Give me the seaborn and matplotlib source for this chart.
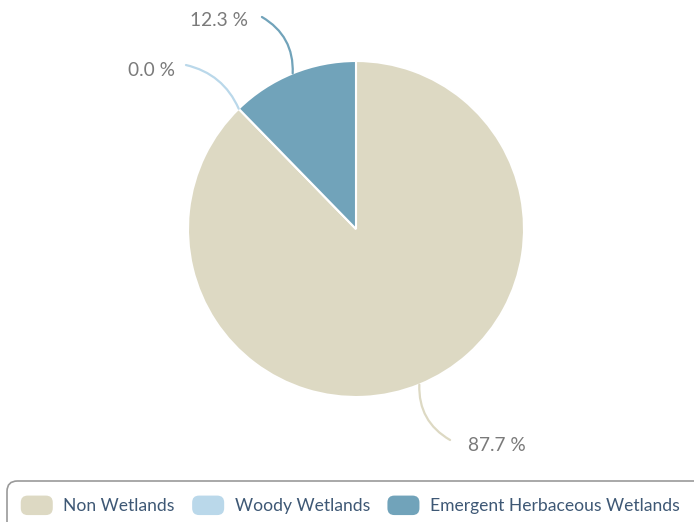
import numpy as np
import matplotlib
matplotlib.use('Agg')
import matplotlib.pyplot as plt
import seaborn as sns
from matplotlib.patches import Patch, FancyBboxPatch
from matplotlib.legend_handler import HandlerPatch

### Dados
categorias = ['Non Wetlands', 'Woody Wetlands', 'Emergent Herbaceous Wetlands']
percentuais = [87.7, 0.0, 12.3]
cores = ['#DDD9C3', '#BAD8EA', '#71A3BA']

sns.set_style('white')
plt.rcParams['font.family'] = ['Lato', 'DejaVu Sans']

fig = plt.figure(figsize=(6.94, 5.22), dpi=100)
W, H = 694, 522
# eixo da pizza: centro (356, 229) px, raio 168 px
ax = fig.add_axes([(356 - 168) / W, (H - 229 - 168) / H, 336 / W, 336 / H])

wedges, _ = ax.pie(percentuais, colors=cores, startangle=90, counterclock=False,
                   radius=1, wedgeprops=dict(edgecolor='white', linewidth=1.5))
ax.set_xlim(-1, 1)
ax.set_ylim(-1, 1)
ax.set_aspect('equal')
ax.axis('off')

# Rótulos com linhas curvas
pos_linha = [(0.56, -1.256), (-1.012, 0.976), (-0.56, 1.262)]
pos_texto = [(0.667, -1.286, 'left'), (-1.077, 0.946, 'right'), (-0.643, 1.244, 'right')]
raios = [-0.3, -0.25, -0.3]
for w, val, cor, pl, pt, rad in zip(wedges, percentuais, cores, pos_linha, pos_texto, raios):
    ang = np.deg2rad((w.theta1 + w.theta2) / 2)
    ponto = (np.cos(ang), np.sin(ang))
    ax.annotate('', xy=ponto, xytext=pl, annotation_clip=False,
                arrowprops=dict(arrowstyle='-', color=cor, lw=1.6,
                                shrinkA=0, shrinkB=0,
                                connectionstyle=f'arc3,rad={rad}'))
    ax.text(pt[0], pt[1], f'{val:.1f} %', ha=pt[2], va='center',
            fontsize=13.8, color='#7a7a7a', clip_on=False)

# Caixa da legenda (cortada à direita)
caixa = FancyBboxPatch((7 / W, -30 / H), 740 / W, 71 / H,
                       boxstyle='round,pad=0,rounding_size=0.015',
                       transform=fig.transFigure, facecolor='white',
                       edgecolor='#9a9a9a', linewidth=1.2, mutation_aspect=W / H)
fig.patches.append(caixa)


class HandlerArredondado(HandlerPatch):
    def create_artists(self, legend, orig_handle, xdescent, ydescent, width, height, fontsize, trans):
        p = FancyBboxPatch((-xdescent, -ydescent - 1.5), width, height + 3,
                           boxstyle='round,pad=0,rounding_size=5',
                           facecolor=orig_handle.get_facecolor(), edgecolor='none',
                           transform=trans)
        return [p]


handles = [Patch(facecolor=c, label=l) for c, l in zip(cores, categorias)]
leg = fig.legend(handles=handles, loc='center left', bbox_to_anchor=(5 / W, 16 / H),
                 ncol=3, frameon=False, fontsize=12.6, labelcolor='#3e5875',
                 handlelength=1.83, handleheight=0.97, handletextpad=0.6, columnspacing=1.0,
                 handler_map={Patch: HandlerArredondado()})

fig.savefig('out.png', dpi=100)
